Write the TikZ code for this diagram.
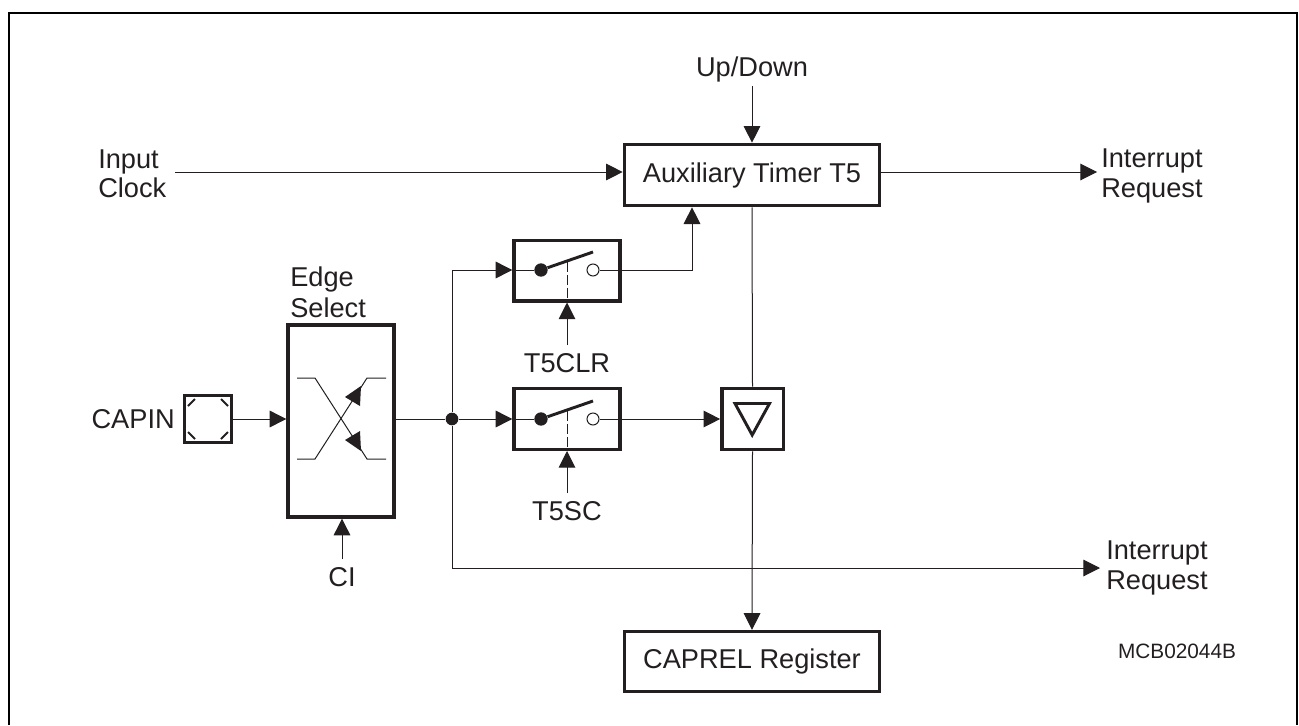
\documentclass[tikz,border=0pt]{standalone}
\usepackage{fontspec}
\setmainfont{Liberation Sans}
\definecolor{Inkcol}{HTML}{231F20}
\usetikzlibrary{arrows.meta, calc, positioning}
\tikzset{
    >={Triangle[length=12.5pt,width=12.5pt]},
    font=\fontsize{20.4}{22}\selectfont,
    text=Inkcol,
    wire/.style={draw=Inkcol, line width=0.75pt},
    blockbox/.style={draw=Inkcol, line width=2.5pt, minimum width=#1, inner sep=0pt},
    lbl/.style={inner sep=0pt, align=left}
}

\begin{document}
\begin{tikzpicture}[x=0.75pt, y=-0.75pt]
    % Frame
    \useasboundingbox (0,0) rectangle (1299,725);
    \draw[black, line width=1.5pt] (8.5,725) -- (8.5,12.5) -- (1297,12.5) -- (1297,725);

    % Blocks
    \node[blockbox=191.5pt, minimum height=46pt] (timer) at (752,175) {Auxiliary Timer T5};
    \node[blockbox=191.5pt, minimum height=45pt] (caprel) at (752,661.5) {CAPREL Register};
    \node[blockbox=79.5pt, minimum height=144pt] (edge) at (341,421) {};
    \node[blockbox=79.5pt, minimum height=45.5pt] (swclr) at (567,270.5) {};
    \node[blockbox=79.5pt, minimum height=45.5pt] (swsc) at (567,419) {};
    \node[blockbox=46pt, minimum height=46pt] (driver) at (752.5,419) {};
    \node[blockbox=35pt, minimum height=35pt] (capin) at (208,419) {};

    % Labels
    \node[lbl] (updown) at (752,69) {Up/Down};
    \node[lbl, anchor=west] (inclk) at (98,173.5) {Input\\Clock};
    \node[lbl, anchor=west] (irqa) at (1101,176) {Interrupt\\Request};
    \node[lbl, anchor=west] (irqb) at (1106,568) {Interrupt\\Request};
    \node[lbl, anchor=west] (edgelbl) at (290,292) {Edge\\[1.5pt]Select};
    \node[lbl, anchor=east] (capinlbl) at (175,419) {CAPIN};
    \node[lbl] (cilbl) at (342,577) {CI};
    \node[lbl] (clrlbl) at (567,363) {T5CLR};
    \node[lbl] (sclbl) at (567,511) {T5SC};
    \node[lbl, font=\fontsize{15.6}{18}\selectfont] (mcb) at (1177,651) {MCB02044B};

    % Switch contacts
    \node[circle, fill=Inkcol, inner sep=0pt, minimum size=10pt] (clrpivot) at (541,270) {};
    \node[circle, wire, fill=white, inner sep=0pt, minimum size=9pt] (clropen) at (593,270) {};
    \node[circle, fill=Inkcol, inner sep=0pt, minimum size=10pt] (scpivot) at (541,419) {};
    \node[circle, wire, fill=white, inner sep=0pt, minimum size=9pt] (scopen) at (593,419) {};
    \node[circle, fill=Inkcol, inner sep=0pt, minimum size=9.5pt] (junction) at (452,419) {};

    % Free ends and bends
    \coordinate (topbend) at (452,270);
    \coordinate (botbend) at (452,568);
    \coordinate (clrbend) at (692,270);
    \coordinate (irqaend) at (1097,172);
    \coordinate (irqbend) at (1100,568);
    \coordinate (clkstart) at (175,172);
    \coordinate (updownout) at (752,86);
    \coordinate (ciout) at (342,559);
    \coordinate (clrout) at (567,345);
    \coordinate (scout) at (567,493);

    % Main wires
    \draw[wire, ->] (updownout) -- (timer.north);
    \draw[wire, ->] (clkstart) -- (timer.west |- clkstart);
    \draw[wire, ->] (timer.east |- irqaend) -- (irqaend);
    \draw[wire, ->] (capin.east) -- (capin.east -| edge.west);
    \draw[wire] (edge.east |- junction) -- (junction);
    \draw[wire, ->] (junction) -- (swsc.west);
    \draw[wire, ->] (junction) -- (topbend) -- (swclr.west |- topbend);
    \draw[wire, ->] (junction) -- (botbend) -- (irqbend);
    \draw[wire, ->] (ciout) -- (ciout |- edge.south);

    % Switches
    \draw[wire] (swclr.west |- clrpivot) -- (clrpivot);
    \draw[wire, ->] (clropen) -- (clrbend) -- (clrbend |- timer.south);
    \draw[wire] (swsc.west |- scpivot) -- (scpivot);
    \draw[wire, ->] (scopen) -- (driver.west);
    \draw[wire, ->] (clrout) -- (clrout |- swclr.south);
    \draw[wire, ->] (scout) -- (scout |- swsc.south);
    \foreach \pv/\sw in {clrpivot/swclr, scpivot/swsc} {
        \draw[Inkcol, line width=2.2pt] (\pv) -- ($(\pv)+(52,-18)$);
        \coordinate (dashtop) at ($(\pv)+(26,-8)$);
        \draw[wire, dash pattern=on 7.5pt off 2.2pt] (dashtop) -- (dashtop |- \sw.south);
    }

    % Driver triangle, vertical bus
    \draw[Inkcol, line width=2.2pt, line join=miter] (735,403.5) -- (769.5,403.5) -- (752.2,435) -- cycle;
    \draw[wire] (timer.south) -- (driver.north);
    \draw[wire, ->] (driver.south) -- (caprel.north);

    % Edge selector
    \draw[wire] (297,378) -- (315,378) -- (367,459) -- (386,459);
    \draw[wire] (297,459) -- (315,459) -- (367,378) -- (386,378);
    \fill[Inkcol] (345,397) -- (361,386) -- (360,406) -- cycle;
    \fill[Inkcol] (345,440) -- (360,431) -- (361,451) -- cycle;

    % Pad corners
    \foreach \sx/\sy in {-1/-1, 1/-1, -1/1, 1/1}
        \draw[Inkcol, line width=1.5pt] ($(capin)+(\sx*20,\sy*13)$) -- ($(capin)+(\sx*13,\sy*20)$);
\end{tikzpicture}
\end{document}
